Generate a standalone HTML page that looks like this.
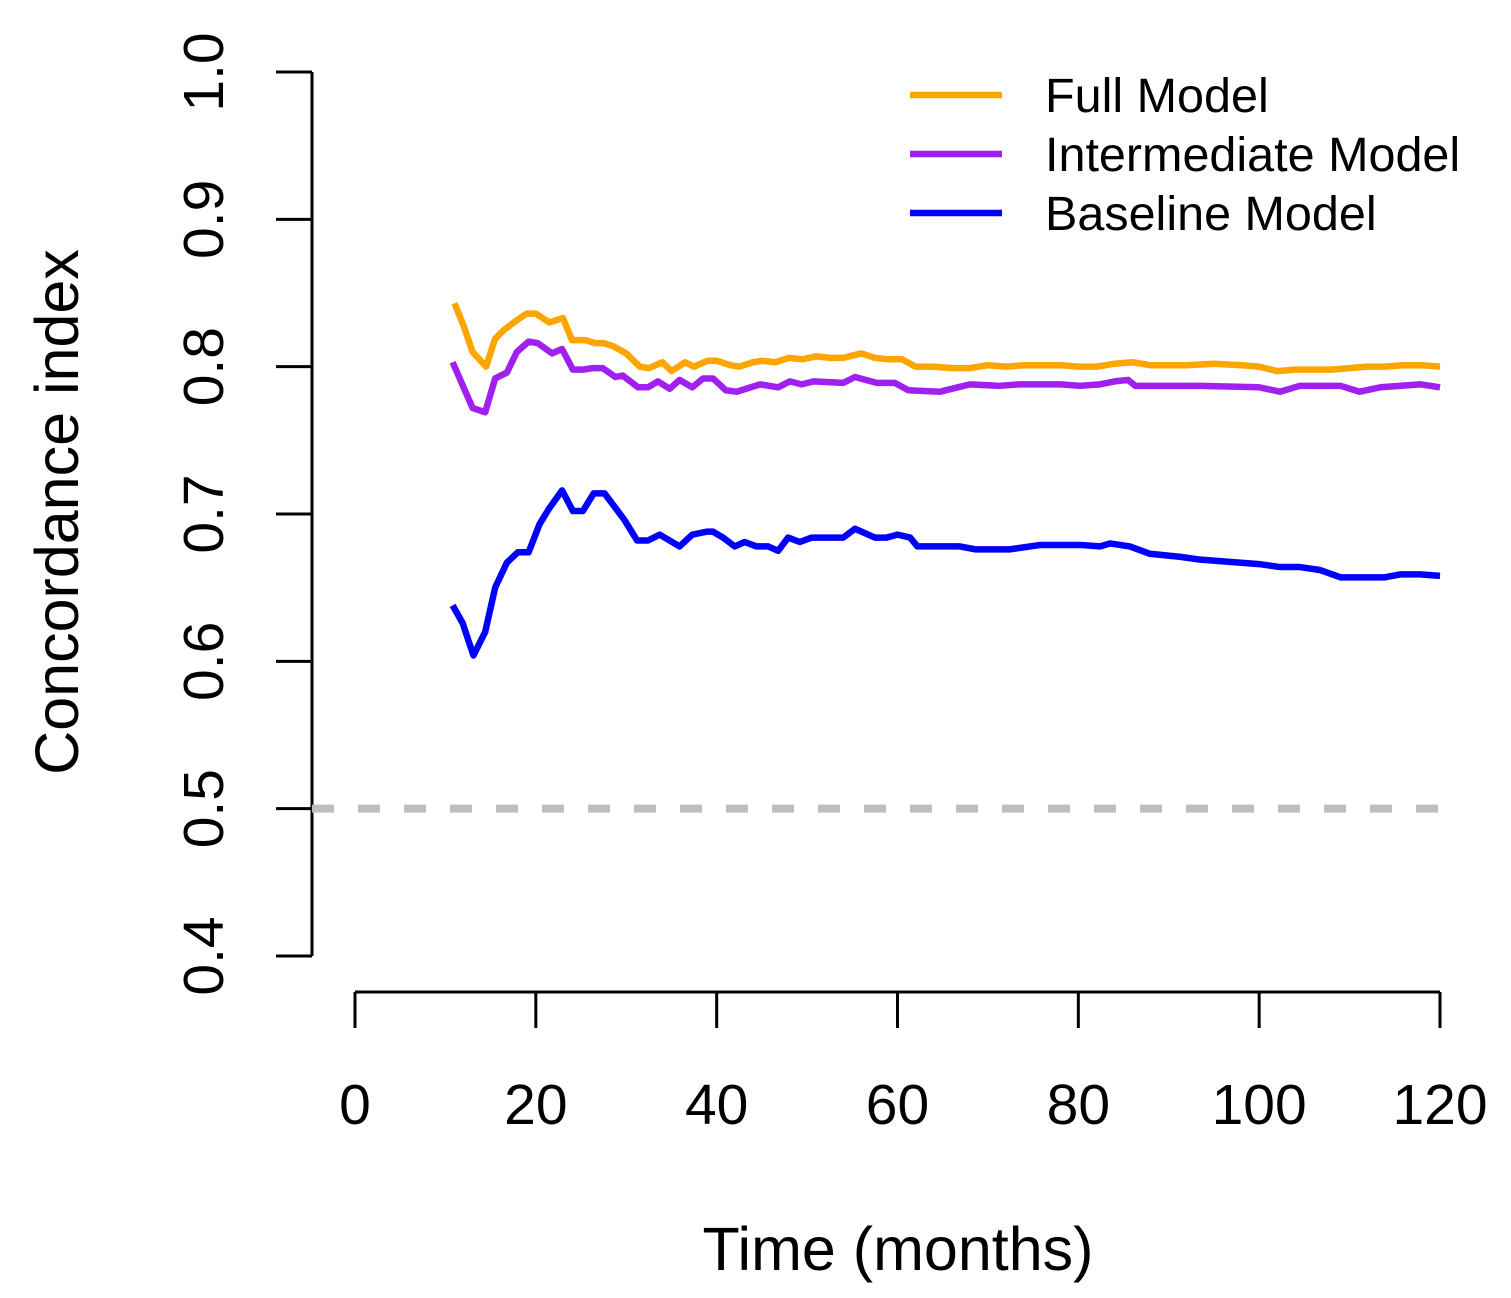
<!DOCTYPE html>
<html><head><meta charset="utf-8"><style>body{margin:0;background:#fff}svg{display:block;font-family:"Liberation Sans",Arial,sans-serif}</style></head>
<body>
<svg id="chart" width="1511" height="1298" viewBox="0 0 1511 1298"></svg>
<script>
const xTicks=[0,20,40,60,80,100,120];
const yTicks=[0.4,0.5,0.6,0.7,0.8,0.9,1.0];
const yTickLabels=["0.4","0.5","0.6","0.7","0.8","0.9","1.0"];
const fullMonths=[11,12,13,14.5,15.5,16.5,18,19,20,21.5,23,24,25.5,26.5,27.5,28.5,30,31.5,32.5,34,35,36.5,37.5,39,40,41.5,42.5,44,45,46.5,48,49.5,51,52.5,54,56,57.5,59,60.5,62,64,66,68,70,72,74,76,78,80,82,84,86,88,90,92,95,98,100,102,104,106,108,110,112,114,116,118,120];
const fullValues=[.843,.828,.810,.800,.819,.825,.832,.836,.836,.830,.833,.818,.818,.816,.816,.814,.809,.800,.799,.803,.797,.803,.800,.804,.804,.801,.800,.803,.804,.803,.806,.805,.807,.806,.806,.809,.806,.805,.805,.800,.800,.799,.799,.801,.800,.801,.801,.801,.800,.800,.802,.803,.801,.801,.801,.802,.801,.800,.797,.798,.798,.798,.799,.800,.800,.801,.801,.800];
const interMonths=[10.8,13.0,14.4,15.5,16.8,17.9,19.2,20.2,21.8,22.9,24.1,25.2,26.3,27.4,28.8,29.6,31.3,32.4,33.5,34.8,35.9,37.3,38.5,39.6,41.0,42.2,44.8,46.8,48.1,49.4,50.7,54.0,55.3,57.7,59.7,61.2,64.7,68,71.3,73.5,78,80.2,82.4,84,85.5,86.3,93.5,100,102.3,104.5,109,111.1,113.4,117.8,120];
const interValues=[.803,.772,.769,.792,.796,.810,.817,.816,.809,.812,.798,.798,.799,.799,.793,.794,.786,.786,.790,.785,.791,.786,.792,.792,.784,.783,.788,.786,.790,.788,.790,.789,.793,.789,.789,.784,.783,.788,.787,.788,.788,.787,.788,.790,.791,.787,.787,.786,.783,.787,.787,.783,.786,.788,.786];
const baseMonths=[10.8,11.9,13.1,14.4,15.5,16.8,18.0,19.2,20.4,21.5,22.9,24.1,25.2,26.4,27.6,29.8,31.2,32.4,33.7,35.9,37.3,38.9,39.6,40.7,42.0,43.1,44.4,45.7,46.8,47.9,49.2,50.5,54.0,55.3,57.5,58.8,60.0,61.4,62.2,64.7,66.9,68.6,70.2,72.4,75.8,78,80.2,82.4,83.5,85.7,87.9,91.2,93.5,100,102.3,104.5,106.7,109,111.1,113.9,115.6,117.8,120];
const baseValues=[.638,.626,.604,.620,.650,.667,.674,.674,.693,.704,.716,.702,.702,.714,.714,.696,.682,.682,.686,.678,.686,.688,.688,.684,.678,.681,.678,.678,.675,.684,.681,.684,.684,.690,.684,.684,.686,.684,.678,.678,.678,.676,.676,.676,.679,.679,.679,.678,.680,.678,.673,.671,.669,.666,.664,.664,.662,.657,.657,.657,.659,.659,.658];
const NS="http://www.w3.org/2000/svg";
const svg=document.getElementById('chart');
const X=m=>355+m*(1440-355)/120;
const Y=v=>956-(v-0.4)*(956-72)/0.6;
function mk(t,a,txt){const e=document.createElementNS(NS,t);for(const k in a)e.setAttribute(k,a[k]);if(txt!==undefined)e.textContent=txt;svg.appendChild(e);return e;}
let e=mk('line',{x1:312,y1:Y(0.4),x2:312,y2:Y(1.0),stroke:'#000','stroke-width':3});


yTicks.forEach((t,i)=>{
 let l=mk('line',{x1:276,y1:Y(t),x2:312,y2:Y(t),stroke:'#000','stroke-width':3});
 
 
 let tx=mk('text',{x:0,y:0,transform:`translate(223,${Y(t)}) rotate(-90)`,'text-anchor':'middle','font-size':57},yTickLabels[i]);
 
 
});
e=mk('line',{x1:X(0),y1:992,x2:X(120),y2:992,stroke:'#000','stroke-width':3});


xTicks.forEach(t=>{
 let l=mk('line',{x1:X(t),y1:992,x2:X(t),y2:1028,stroke:'#000','stroke-width':3});
 
 
 let tx=mk('text',{x:X(t),y:1124,'text-anchor':'middle','font-size':57},String(t));
 
 
});
e=mk('text',{x:0,y:0,transform:'translate(78,512) rotate(-90)','text-anchor':'middle','font-size':61},'Concordance index');


e=mk('text',{x:898,y:1270,'text-anchor':'middle','font-size':61},'Time (months)');


e=mk('line',{x1:312,y1:Y(0.5),x2:1440,y2:Y(0.5),stroke:'#bebebe','stroke-width':8,'stroke-dasharray':'22 24'});


function series(ms,vs,col,name){
 const p=mk('polyline',{points:ms.map((m,i)=>X(m)+','+Y(vs[i])).join(' '),fill:'none',stroke:col,'stroke-width':6.5,'stroke-linejoin':'round'});
 
 
}
series(fullMonths,fullValues,'#FFA500','full-model-line');
series(interMonths,interValues,'#A020F0','intermediate-model-line');
series(baseMonths,baseValues,'#0000FF','baseline-model-line');
const legNames=['Full Model','Intermediate Model','Baseline Model'];
const legCols=['#FFA500','#A020F0','#0000FF'];
legNames.forEach((n,i)=>{
 const y=95+i*59;
 let l=mk('line',{x1:910,y1:y,x2:1002,y2:y,stroke:legCols[i],'stroke-width':6.5});
 
 
 let t=mk('text',{x:1045,y:y+17,'font-size':48.5},n);
 
 
});
</script>
</body></html>
